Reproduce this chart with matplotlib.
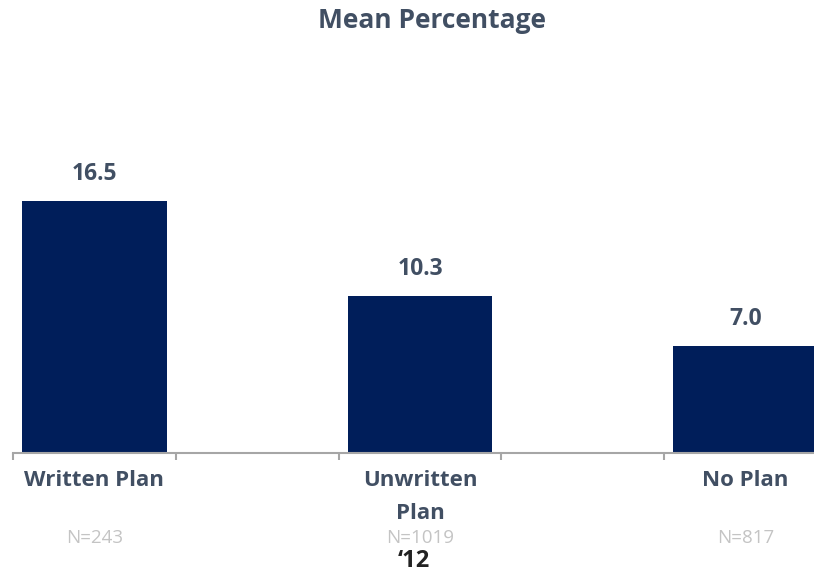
import matplotlib
matplotlib.use("Agg")
import matplotlib.pyplot as plt
import matplotlib.transforms as mtransforms

categories = ["Written Plan", "Unwritten\nPlan", "No Plan"]
values = [16.5, 10.3, 7.0]
n_labels = ["N=243", "N=1019", "N=817"]
year_label = "\u201812"
title = "Mean Percentage"

W, H = 814, 572
fig = plt.figure(figsize=(W / 100, H / 100), dpi=100)
plt.rcParams['font.family'] = ['Open Sans', 'DejaVu Sans']

ax_left, ax_bottom = 13, 119
ax = fig.add_axes([ax_left / W, ax_bottom / H, (W - ax_left) / W, 305 / H])
x = list(range(len(categories)))
navy = "#001e5a"
txtc = "#414f63"
ax.bar(x, values, width=0.445, color=navy, zorder=2)
ax.set_xlim(-0.25, 2.21)
ax.set_ylim(0, 20)

for s in ["top", "right", "left"]:
    ax.spines[s].set_visible(False)
ax.spines["bottom"].set_color("#a6a6a6")
ax.spines["bottom"].set_linewidth(1.5)
ax.set_yticks([])
ax.set_xticks([-0.25, 0.25, 0.75, 1.25, 1.75])
ax.set_xticklabels([])
ax.tick_params(axis="x", direction="out", length=5, width=1.5, color="#a6a6a6")

for xi, v in zip(x, values):
    ax.annotate(f"{v:.1f}", (xi, v), xytext=(0, 15), textcoords="offset pixels",
                ha="center", va="bottom", fontsize=16.5, fontweight="bold", color=txtc)

trans = mtransforms.blended_transform_factory(ax.transData, fig.transFigure)
def yf(px):
    return 1 - px / H

for xi, c, n in zip(x, categories, n_labels):
    ax.text(xi, yf(470), c, transform=trans, ha="center", va="top",
            fontsize=16, fontweight="bold", color=txtc, linespacing=1.72)
    ax.text(xi, yf(538), n, transform=trans, ha="center", va="center",
            fontsize=13.5, color="#c4c4c4")
ax.text(1 - 0.02, yf(561), year_label, transform=trans, ha="center", va="center",
        fontsize=17, fontweight="bold", color="#222222")

fig.text(432 / W, yf(21), title, ha="center", va="center", fontsize=19,
         fontweight="bold", color=txtc)

fig.savefig("out.png", dpi=100)
